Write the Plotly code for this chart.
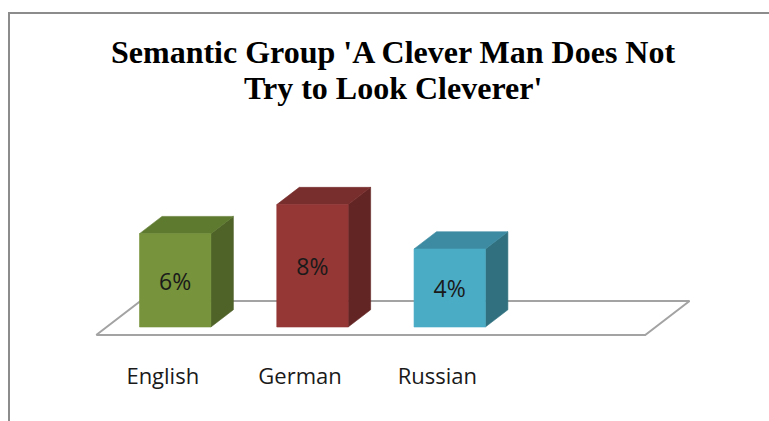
import plotly.graph_objects as go

# ---------------- data ----------------
categories = ["English", "German", "Russian"]
bar_heights = [6.1, 8.0, 5.1]          # bar heights in %, as drawn in the picture
value_labels = ["6%", "8%", "4%"]      # data labels printed on the bars
front_colors = ["#77933C", "#953735", "#4BACC6"]
top_colors = ["#5E7A2F", "#772E2C", "#3C8BA2"]
side_colors = ["#4F6228", "#632523", "#31717F"]
title_lines = ["Semantic Group 'A Clever Man Does Not", "Try to Look Cleverer'"]

# ---------------- layout geometry (pixels) ----------------
W, H = 769, 421
PX_PER_CAT = 137.25
PX_PER_PCT = 15.3
ORIGIN_PX = (175.2, 327.0)      # screen position of category 0 / 0 % on bar front plane
DEPTH_PX = (22.5, -17.25)       # screen shift for one bar depth
BAR_W = 0.52
FLOOR_D = (-0.46, 1.51)         # floor front / back in bar-depth units
LABEL_GAP_PX = 44.0
VALUE_LABEL_SHIFT_PX = 3.5

x_range = [-ORIGIN_PX[0] / PX_PER_CAT, (W - ORIGIN_PX[0]) / PX_PER_CAT]
y_range = [(ORIGIN_PX[1] - H) / PX_PER_PCT, ORIGIN_PX[1] / PX_PER_PCT]


def proj(x, v, d):
    """oblique projection of (category, value, depth) into axis units"""
    return (x + d * DEPTH_PX[0] / PX_PER_CAT,
            v - d * DEPTH_PX[1] / PX_PER_PCT)


def poly(points, fill, line_color=None, line_w=0.6):
    xs, ys = zip(*[proj(*p) for p in points])
    xs = list(xs) + [xs[0]]
    ys = list(ys) + [ys[0]]
    return go.Scatter(x=xs, y=ys, mode="lines", fill="toself",
                      fillcolor=fill,
                      line=dict(color=line_color or fill, width=line_w),
                      hoverinfo="skip", showlegend=False)


fig = go.Figure()

# floor
fx0, fx1 = -0.5, len(categories) + 0.5
fig.add_trace(poly([(fx0, 0, FLOOR_D[0]), (fx1, 0, FLOOR_D[0]),
                    (fx1, 0, FLOOR_D[1]), (fx0, 0, FLOOR_D[1])],
                   "#FFFFFF", "#A3A3A3", 2))

# 3D bars
for i, h in enumerate(bar_heights):
    xl, xr = i - BAR_W / 2, i + BAR_W / 2
    fig.add_trace(poly([(xr, 0, 0), (xr, 0, 1), (xr, h, 1), (xr, h, 0)], side_colors[i]))
    fig.add_trace(poly([(xl, h, 0), (xr, h, 0), (xr, h, 1), (xl, h, 1)], top_colors[i]))
    fig.add_trace(poly([(xl, 0, 0), (xr, 0, 0), (xr, h, 0), (xl, h, 0)], front_colors[i]))

# value labels
fig.add_trace(go.Scatter(
    x=list(range(len(categories))),
    y=[h / 2 - VALUE_LABEL_SHIFT_PX / PX_PER_PCT for h in bar_heights],
    mode="text", text=value_labels, textposition="middle center",
    textfont=dict(family="Open Sans", size=23, color="#1A1A1A"),
    hoverinfo="skip", showlegend=False))

# category labels
cx, cy = zip(*[proj(i, 0, FLOOR_D[0]) for i in range(len(categories))])
fig.add_trace(go.Scatter(
    x=[v - 0.015 for v in cx], y=[v - LABEL_GAP_PX / PX_PER_PCT for v in cy],
    mode="text", text=categories, textposition="middle center",
    textfont=dict(family="Open Sans", size=22, color="#1A1A1A"),
    hoverinfo="skip", showlegend=False))

# title (two lines)
for k, (line, ypx) in enumerate(zip(title_lines, [52.5, 88.2])):
    fig.add_annotation(text="<b>" + line + "</b>", xref="paper", yref="paper",
                       x=393 / W, y=1 - ypx / H, xanchor="center", yanchor="middle",
                       showarrow=False,
                       font=dict(family="Liberation Serif", size=32, color="#000000"))

# chart frame
fig.add_shape(type="rect", xref="paper", yref="paper",
              x0=9 / W, x1=1.05, y0=-0.05, y1=1 - 13 / H,
              line=dict(color="#8C8C8C", width=2), fillcolor="rgba(0,0,0,0)")

fig.update_layout(
    width=W, height=H, margin=dict(l=0, r=0, t=0, b=0),
    paper_bgcolor="#FFFFFF", plot_bgcolor="#FFFFFF",
    hovermode=False, showlegend=False,
    xaxis=dict(range=x_range, visible=False, fixedrange=True),
    yaxis=dict(range=y_range, visible=False, fixedrange=True),
)

fig.write_html("out.html", config={"displayModeBar": False})
